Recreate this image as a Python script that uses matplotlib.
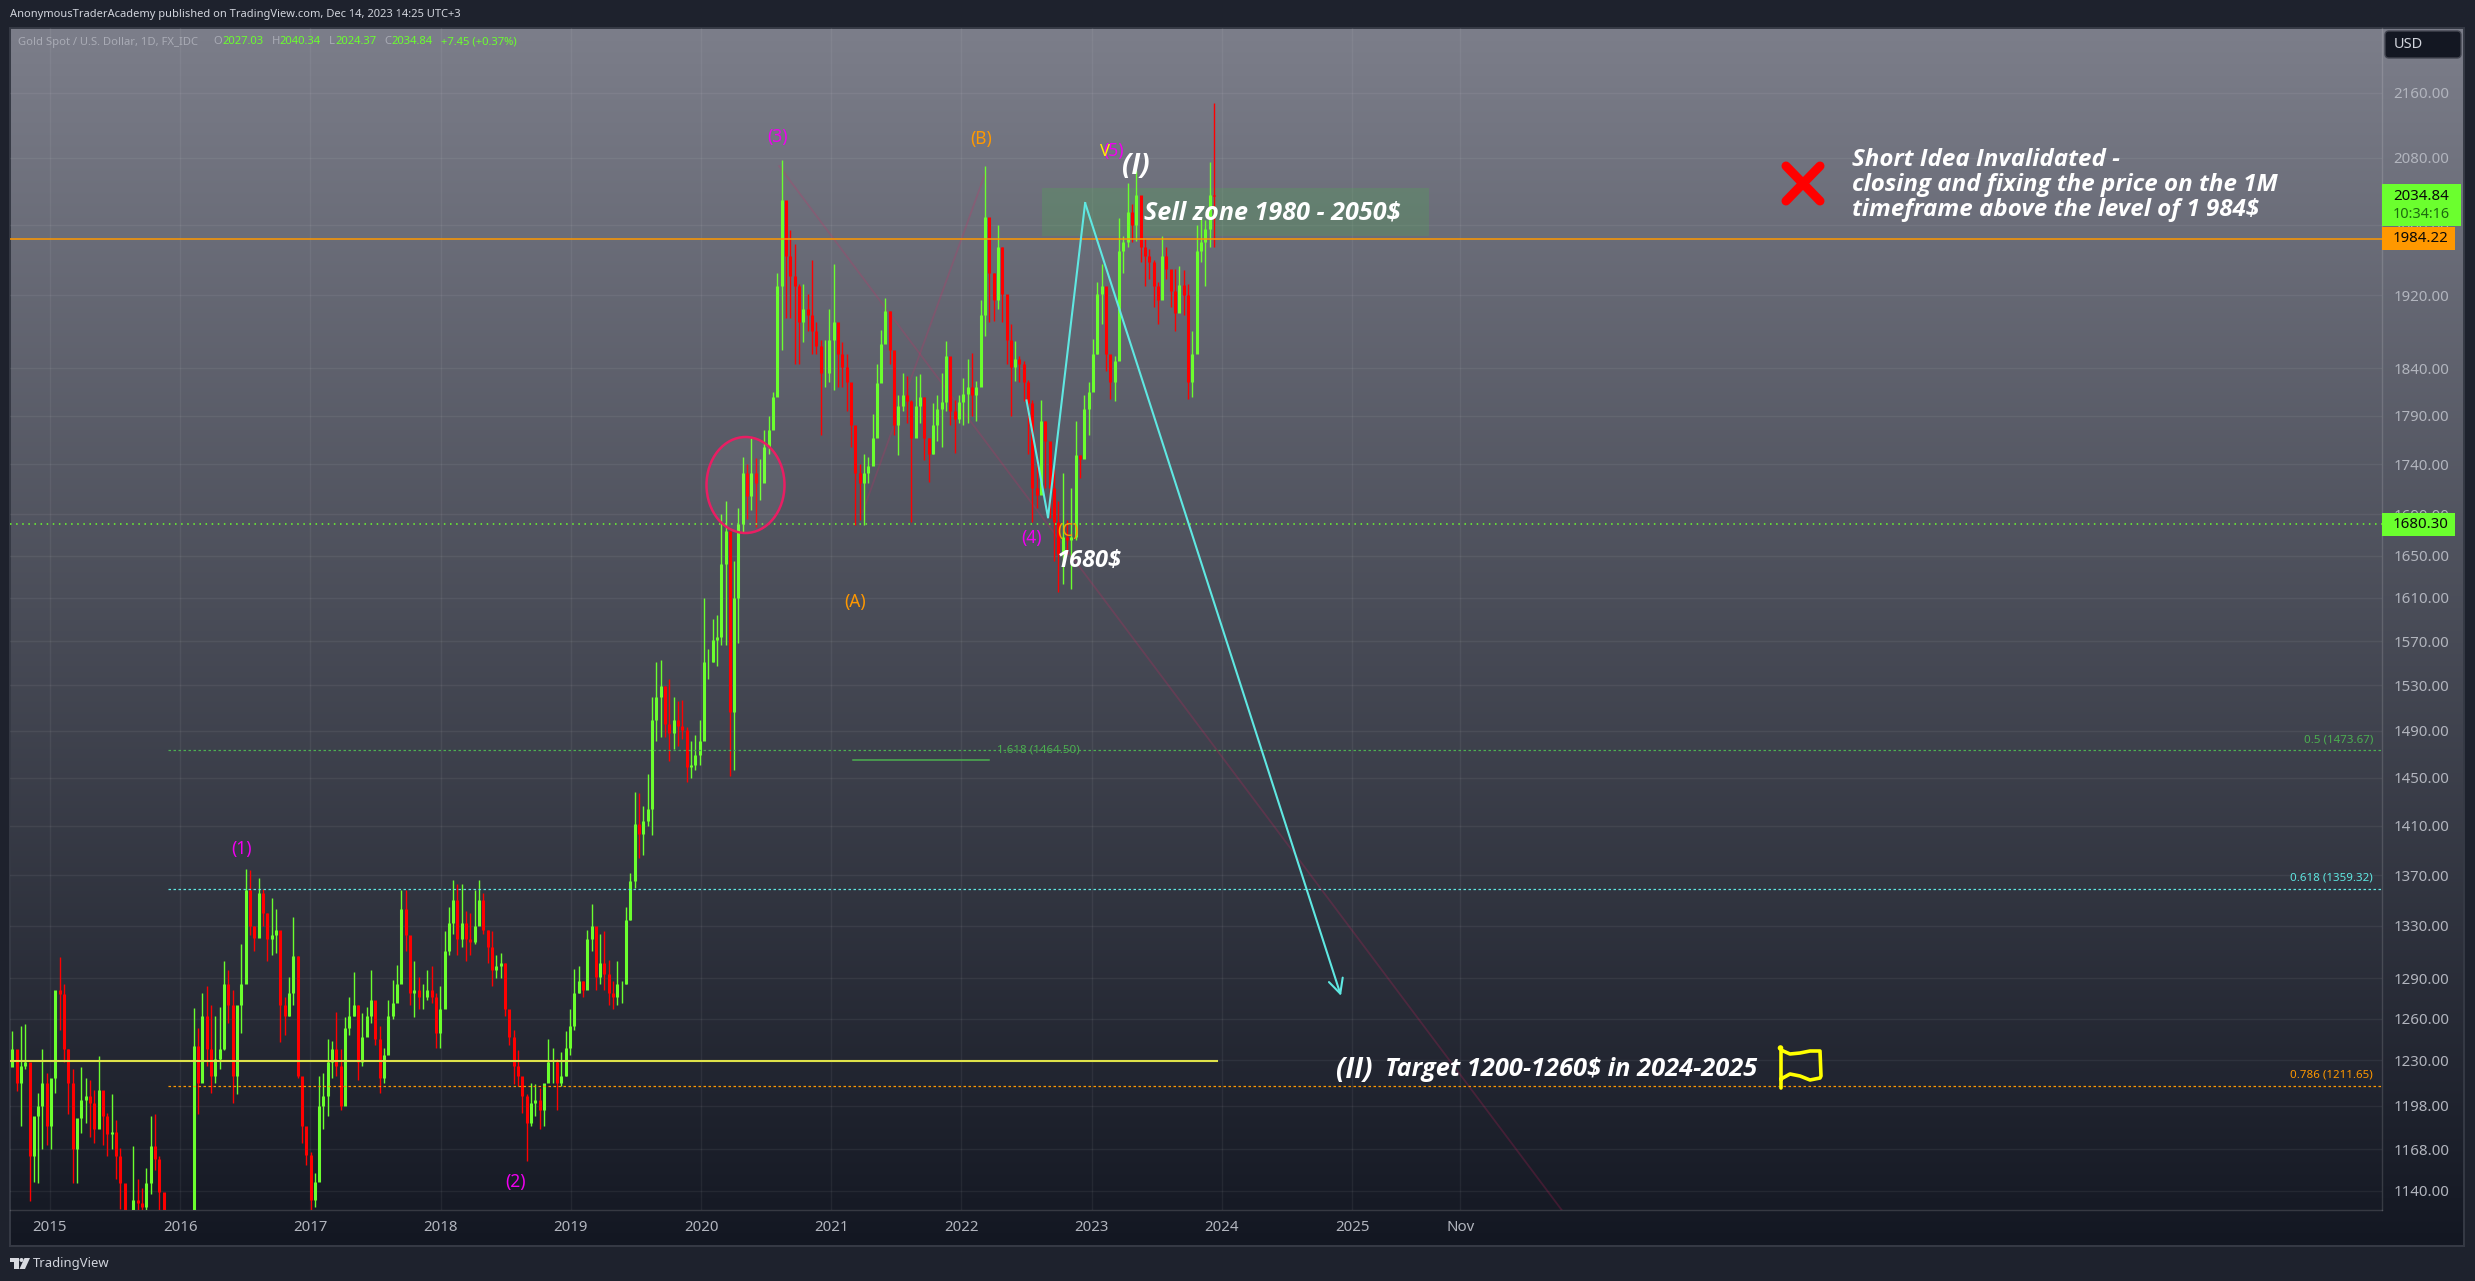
import matplotlib
matplotlib.use('Agg')
import matplotlib.pyplot as plt
import numpy as np
from matplotlib.collections import LineCollection
from matplotlib.patches import Rectangle, Ellipse, FancyBboxPatch, Polygon, Circle
from matplotlib.ticker import NullLocator

plt.rcParams['font.family'] = ['Noto Sans', 'DejaVu Sans']

# price bars, one bar about every 12 days
highs_a = [1251,1233,1255,1256,1217,1180,1207,1238,1221,1211,
           1267,1306,1286,1238,1224,1178,1225,1217,1216,1209,
           1233,1205,1193,1206,1188,1169,1125,1122,1170,1148,
           1142,1155,1191,1192,1163,1120,1115,1108,1110,1120,
           1125,1127,1268,1253,1279,1284,1270,1262,1269,1303,
           1296,1281,1264,1316,1375,1374,1330,1368,1359,1340,
           1352,1343,1314,1276,1291,1337,1307]
lows_a = [1229,1208,1184,1224,1133,1146,1145,1168,1171,1168,
          1207,1252,1229,1192,1145,1145,1179,1186,1176,1172,
          1184,1171,1163,1168,1148,1128,1100,1095,1115,1122,
          1122,1122,1138,1154,1122,1085,1075,1070,1060,1065,
          1085,1095,1128,1192,1229,1226,1207,1214,1224,1237,
          1257,1200,1206,1250,1308,1323,1311,1324,1330,1303,
          1308,1309,1243,1248,1262,1270,1217]
closes_a = [1238,1214,1226,1229,1163,1191,1198,1214,1184,1217,
            1281,1278,1238,1214,1168,1189,1202,1205,1200,1182,
            1209,1191,1178,1180,1163,1145,1110,1105,1134,1132,
            1129,1145,1170,1161,1139,1100,1085,1080,1075,1100,
            1115,1120,1240,1214,1262,1238,1219,1231,1238,1286,
            1270,1219,1270,1286,1358,1330,1321,1356,1340,1320,
            1323,1327,1270,1262,1279,1307,1219]

highs_b = [1198,1179,1166,1152,1219,1221,1245,1244,1265,1238,
           1261,1276,1295,1270,1264,1269,1296,1260,1255,1239,
           1274,1289,1300,1358,1358,1318,1303,1291,1286,1296,
           1299,1279,1284,1326,1345,1366,1363,1363,1342,1340,
           1358,1366,1356,1327,1326,1308,1309,1302,1266,1252,
           1237,1218,1206,1214,1213,1210,1205,1245,1239,1231,
           1236,1251,1267,1297,1299,1288]
lows_b = [1172,1157,1120,1129,1168,1182,1191,1217,1219,1195,
          1226,1248,1262,1216,1226,1250,1257,1241,1207,1214,
          1245,1260,1276,1299,1311,1270,1261,1267,1267,1274,
          1272,1239,1239,1281,1308,1324,1308,1314,1303,1308,
          1316,1332,1324,1302,1284,1290,1290,1262,1241,1213,
          1212,1193,1160,1184,1191,1182,1184,1217,1214,1195,
          1212,1219,1234,1252,1279,1276]
closes_b = [1184,1164,1134,1146,1198,1205,1229,1238,1226,1198,
            1253,1262,1270,1229,1247,1262,1274,1245,1217,1234,
            1262,1272,1286,1343,1323,1279,1281,1276,1276,1281,
            1276,1250,1267,1311,1332,1350,1320,1332,1320,1318,
            1330,1350,1327,1314,1296,1299,1302,1267,1247,1226,
            1219,1205,1186,1200,1202,1195,1214,1229,1229,1214,
            1219,1239,1255,1279,1288,1281]

highs_c = [1327,1347,1325,1324,1326,1304,1288,1303,1288,1345,1372]
lows_c = [1302,1311,1281,1286,1281,1270,1267,1270,1272,1286,1335]
closes_c = [1320,1330,1291,1302,1293,1279,1276,1286,1286,1335,1365]

highs_d = [1438,1437,1426,1453,1520,1551,1553,1529,1536,1520,1516,1517,1493,
           1481,1486,1499,1610,1563,1590,1594,1690,1703,1650,1645,1696]
lows_d = [1360,1384,1386,1410,1402,1481,1485,1485,1464,1474,1477,1483,1446,
          1450,1456,1461,1496,1536,1551,1547,1566,1566,1451,1456,1568]
closes_d = [1411,1403,1414,1424,1499,1520,1529,1496,1488,1499,1494,1491,1459,
            1461,1469,1481,1551,1551,1571,1574,1642,1674,1506,1610,1681]

highs_e = [1748,1740,1767,1746,1745,1775,1790,1815,1945,2077,
           2025,1994,1978,1933,1933,1922,1960,1890,1871,1871,
           1905,1955,1868,1868,1855,1817,1758,1740,1751,1748,
           1792,1845,1882,1917,1902,1845,1812,1835,1832,1807,
           1832,1834,1810,1767,1803,1812,1835,1870,1812,1806,
           1812,1830,1850,1857,1827,1915,2070,1975,1945,2000,
           1975,1915,1888,1870,1853,1848,1828,1807,1750,1807,
           1785,1735,1735,1703,1731,1685,1716,1785,1750,1812,
           1825,1872,1935,1955,1882,1853,1853,2008,1988,2050,
           2025,2065,1992,1985,1973,1960,1935,1988,1975,1938,
           1950,1953,1948,1933,1880,2000,2008,2006,2075,2148]
lows_e = [1672,1686,1694,1678,1704,1731,1751,1790,1840,1860,
          1895,1895,1845,1845,1868,1880,1855,1855,1770,1820,
          1825,1817,1820,1820,1795,1758,1680,1685,1680,1721,
          1751,1770,1842,1868,1845,1770,1750,1795,1782,1683,
          1770,1782,1744,1722,1751,1764,1758,1795,1780,1752,
          1782,1780,1782,1790,1785,1843,1875,1890,1892,1905,
          1890,1845,1790,1827,1825,1805,1751,1683,1696,1749,
          1716,1687,1645,1615,1623,1652,1618,1665,1726,1767,
          1770,1820,1855,1888,1837,1808,1805,1850,1945,1975,
          1980,1982,1958,1930,1938,1907,1888,1930,1938,1907,
          1880,1912,1898,1808,1810,1910,1958,1930,1975,1975]
closes_e = [1731,1708,1731,1721,1721,1758,1775,1810,1930,2030,
            1965,1942,1930,1890,1905,1898,1880,1864,1835,1835,
            1871,1890,1855,1842,1825,1780,1731,1721,1731,1738,
            1767,1824,1866,1902,1860,1780,1800,1812,1805,1767,
            1800,1810,1767,1751,1780,1797,1804,1853,1795,1787,
            1804,1813,1820,1812,1820,1898,2010,1945,1915,1975,
            1922,1871,1842,1850,1845,1825,1803,1716,1709,1785,
            1764,1716,1683,1652,1668,1665,1668,1750,1745,1797,
            1815,1855,1922,1930,1855,1825,1848,1970,1980,2015,
            2000,2035,1975,1965,1958,1930,1915,1965,1950,1925,
            1900,1932,1920,1825,1855,1970,1980,1995,2035,2034.84]

first_open = 1225
first_bar_year = 2014.71
last_bar_year = 2023.94

price_ticks = [2160, 2080, 2000, 1920, 1840, 1790, 1740, 1690, 1650, 1610, 1570, 1530,
               1490, 1450, 1410, 1370, 1330, 1290, 1260, 1230, 1198, 1168, 1140]
year_ticks = [2015, 2016, 2017, 2018, 2019, 2020, 2021, 2022, 2023, 2024, 2025]
nov_tick = 2025.83

# levels and drawings on the chart
level_last = 1984.22
level_support = 1680.30
level_target = 1229.5
fib_05 = 1473.67
fib_0618 = 1359.32
fib_0786 = 1211.65
fib_1618 = 1464.50
sell_zone = (1987, 2044)
path_years = [2022.50, 2022.665, 2022.95, 2024.915]
path_prices = [1806, 1687, 2026, 1277]
wave_down_years = [2020.60, 2026.61]
wave_down_prices = [2070, 1127.3]
wave_up_years = [2021.24, 2022.18]
wave_up_prices = [1692, 2060]

GREEN = '#6bff2e'
RED = '#ff0000'
ORANGE = '#ff9800'
CYAN = '#5fe8e2'
FIB_GREEN = '#4caf50'
MAGENTA = '#f000f0'
GREY = '#b2b5be'

highs = np.array(highs_a + highs_b + highs_c + highs_d + highs_e)
lows = np.array(lows_a + lows_b + lows_c + lows_d + lows_e)
closes = np.array(closes_a + closes_b + closes_c + closes_d + closes_e)
opens = np.concatenate([[first_open], closes[:-1]])
bar_x = np.linspace(first_bar_year, last_bar_year, len(highs))
bar_colors = [GREEN if c >= o else RED for o, c in zip(opens, closes)]

W, H = 2475, 1281
fig = plt.figure(figsize=(W / 100, H / 100), dpi=100, facecolor='#1e222d')


def px_axes(left, top, right, bottom):
    return [left / W, 1 - bottom / H, (right - left) / W, (bottom - top) / H]


# gradient panel behind chart, price scale and time scale
bg = fig.add_axes(px_axes(10, 28, 2464, 1246), zorder=0)
top_col = np.array([124, 126, 138]) / 255
bot_col = np.array([19, 23, 34]) / 255
ramp = np.linspace(0, 1, 512)[:, None, None]
bg.imshow(top_col + (bot_col - top_col) * ramp, aspect='auto')
bg.set_xticks([])
bg.set_yticks([])
for s in bg.spines.values():
    s.set_color('#363a45')
    s.set_linewidth(1.4)

ax = fig.add_axes(px_axes(10, 28, 2382, 1210), zorder=1)
ax.patch.set_visible(False)
ax.set_yscale('log')
ax.set_xlim(2014.693, 2032.91)
ax.set_ylim(1127.3, 2243.3)
ax.yaxis.tick_right()
ax.set_yticks(price_ticks)
ax.set_yticklabels(['%.2f' % p for p in price_ticks], fontsize=10.8, color=GREY)
ax.yaxis.set_minor_locator(NullLocator())
ax.set_xticks(year_ticks + [nov_tick])
ax.set_xticklabels([str(y) for y in year_ticks] + ['Nov'], fontsize=10.8, color=GREY)
for lab in ax.get_xticklabels()[:-1]:
    lab.set_fontweight('bold')
ax.tick_params(axis='both', length=0, which='both')
ax.tick_params(axis='y', pad=8)
ax.tick_params(axis='x', pad=7)
ax.grid(True, color='white', alpha=0.06, linewidth=1.0)
ax.set_axisbelow(True)
for name, s in ax.spines.items():
    s.set_color('#ffffff')
    s.set_alpha(0.14)
    s.set_linewidth(1.0)
    if name in ('top', 'left'):
        s.set_visible(False)

# faint wave lines under the bars
ax.plot(wave_down_years, wave_down_prices, color='#e91e63', alpha=0.2, lw=1.3, zorder=2)
ax.plot(wave_up_years, wave_up_prices, color='#e91e63', alpha=0.2, lw=1.3, zorder=2)

# sell zone
ax.add_patch(Rectangle((2022.62, sell_zone[0]), 2.97, sell_zone[1] - sell_zone[0],
                       facecolor=FIB_GREEN, alpha=0.25, edgecolor='none', zorder=2))

# bars
ax.vlines(bar_x, lows, highs, colors=bar_colors, linewidth=1.0, zorder=3)
ax.vlines(bar_x, np.minimum(opens, closes), np.maximum(opens, closes), colors=bar_colors,
          linewidth=2.2, zorder=3)

# levels
ax.axhline(level_last, color=ORANGE, lw=1.1, zorder=4)
ax.axhline(level_support, color=GREEN, lw=1.1, ls=(0, (1, 3)), zorder=4)
ax.plot([2014.693, 2023.96], [level_target, level_target], color='#dfe24a', lw=1.5, zorder=4)
fib_start = 2015.91
ax.plot([fib_start, 2032.91], [fib_05, fib_05], color=FIB_GREEN, lw=0.9, ls=(0, (2, 2)), zorder=4)
ax.plot([fib_start, 2032.91], [fib_0618, fib_0618], color=CYAN, lw=0.9, ls=(0, (2, 2)), zorder=4)
ax.plot([fib_start, 2032.91], [fib_0786, fib_0786], color=ORANGE, lw=0.9, ls=(0, (2, 2)), zorder=4)
ax.plot([2021.17, 2022.21], [fib_1618, fib_1618], color=FIB_GREEN, lw=1.1, zorder=4)

# cyan forecast path
ax.plot(path_years[:3], path_prices[:3], color=CYAN, lw=1.5, zorder=5)
ax.annotate('', xy=(path_years[3], path_prices[3]), xytext=(path_years[2], path_prices[2]),
            arrowprops=dict(arrowstyle='->', color=CYAN, lw=1.5, mutation_scale=26,
                            shrinkA=0, shrinkB=0), zorder=5)

# everything below is placed in picture pixels
over = fig.add_axes([0, 0, 1, 1], zorder=2)
over.set_xlim(0, W)
over.set_ylim(H, 0)
over.axis('off')


def txt(x, y, s, size=9, color='white', ha='left', weight='normal', style='normal', **kw):
    return over.text(x, y, s, fontsize=size, color=color, ha=ha, va='center',
                     fontweight=weight, fontstyle=style, **kw)


def note(x, y, s, size, ha='left'):
    return txt(x, y, s, size=size, ha=ha, weight='bold', style='italic', family='Open Sans')


# header lines
txt(10, 15, 'AnonymousTraderAcademy published on TradingView.com, Dec 14, 2023 14:25 UTC+3',
    size=8.0, color='#d1d4dc')
txt(18, 42, 'Gold Spot / U.S. Dollar, 1D, FX_IDC', size=8.1, color='#a9abb5')
for x, s in [(213, 'O'), (271.5, 'H'), (329, 'L'), (384, 'C')]:
    txt(x, 42, s, size=8.1, color='#a9abb5')
for x, s in [(222, '2027.03'), (279, '2040.34'), (335, '2024.37'), (391, '2034.84'),
             (441, '+7.45 (+0.37%)')]:
    txt(x, 42, s, size=8.1, color=GREEN)

# footer logo
over.add_patch(Polygon([(10, 1258), (19, 1258), (19, 1269), (14, 1269), (14, 1262), (10, 1262)],
                       facecolor='#d8dae0', edgecolor='none'))
over.add_patch(Circle((21.5, 1260), 2, facecolor='#d8dae0', edgecolor='none'))
over.add_patch(Polygon([(24.5, 1258), (30, 1258), (25, 1269), (19.5, 1269)],
                       facecolor='#d8dae0', edgecolor='none'))
txt(33, 1263, 'TradingView', size=9.4, color='#d1d4dc')

# price scale labels
over.add_patch(FancyBboxPatch((2387, 33), 72, 23, boxstyle='round,pad=2,rounding_size=4',
                              facecolor='#131722', edgecolor='#434651', linewidth=1))
txt(2394, 44.5, 'USD', size=10.5, color='#d1d4dc')
over.add_patch(Rectangle((2382, 184), 79, 42, facecolor=GREEN, edgecolor='none'))
txt(2393, 196, '2034.84', size=10.8, color='#0a0a0a')
txt(2393, 215, '10:34:16', size=10.4, color='#1d6b10')
over.add_patch(Rectangle((2382, 227), 73, 23, facecolor=ORANGE, edgecolor='none'))
txt(2393, 238.5, '1984.22', size=10.8, color='#0a0a0a')
over.add_patch(Rectangle((2382, 513), 73, 23, facecolor=GREEN, edgecolor='none'))
txt(2393, 524.5, '1680.30', size=10.8, color='#0a0a0a')

# fib labels
txt(2373, 740, '0.5 (1473.67)', size=8.3, color=FIB_GREEN, ha='right')
txt(2373, 878, '0.618 (1359.32)', size=8.3, color=CYAN, ha='right', weight='bold')
txt(2373, 1075, '0.786 (1211.65)', size=8.3, color=ORANGE, ha='right')
txt(997, 750, '1.618 (1464.50)', size=8.3, color=FIB_GREEN)

# wave counts
for x, y, s in [(777, 137, '(3)'), (1032, 538, '(4)'), (1113, 151, '(5)'),
                (241, 849, '(1)'), (515, 1182, '(2)')]:
    txt(x, y, s, size=12.5, color=MAGENTA, ha='center')
for x, y, s in [(981, 139, '(B)'), (855, 602, '(A)'), (1068, 531, '(C)')]:
    txt(x, y, s, size=12.5, color=ORANGE, ha='center')
txt(1105, 152, 'V', size=12, color='#ffee00', ha='center', weight='bold')

# white notes
note(1136, 167, '(I)', 20, ha='center')
note(1089, 561, '1680$', 17, ha='center')
note(1144, 213, 'Sell zone 1980 - 2050$', 18.1)
note(1336, 1070, '(II)', 20)
note(1385, 1070, 'Target 1200-1260$ in 2024-2025', 18.3)
note(1852, 160, 'Short Idea Invalidated -', 17.4)
note(1852, 185, 'closing and fixing the price on the 1M', 17.4)
note(1852, 210, 'timeframe above the level of 1 984$', 17.4)

# icons
over.add_patch(Ellipse((745.5, 485), 78, 96, facecolor='white', alpha=0.06, edgecolor='none'))
over.add_patch(Ellipse((745.5, 485), 78, 96, facecolor='none', edgecolor='#e91e63', linewidth=1.8))
over.add_collection(LineCollection([[(1786, 166), (1820, 201)], [(1820, 166), (1786, 201)]],
                                   colors=RED, linewidths=6.5, capstyle='round'))
flag_x = [1781, 1781, 1790, 1800, 1810, 1820, 1821, 1820, 1810, 1800, 1790, 1781]
flag_y = [1088, 1050, 1054, 1053, 1051, 1051, 1076, 1078, 1080, 1076, 1074, 1079]
over.plot(flag_x, flag_y, color='#ffff00', lw=2.6, solid_capstyle='round', solid_joinstyle='round')
over.add_patch(Circle((1780.5, 1048), 2.8, facecolor='#ffff00', edgecolor='none'))

fig.savefig('out.png', dpi=100, facecolor=fig.get_facecolor())
